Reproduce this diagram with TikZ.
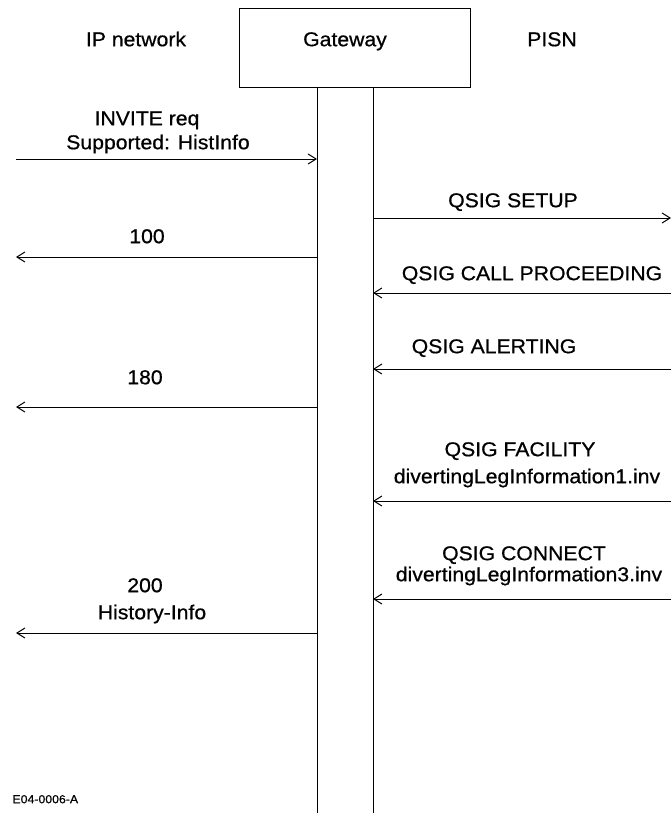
\documentclass[tikz,border=0pt]{standalone}
\usepackage{fontspec}
\setmainfont[FakeStretch=1.06,FakeBold=0.7]{Liberation Sans}
\usetikzlibrary{arrows.meta}
\begin{document}
\begin{tikzpicture}[x=0.5pt,y=-0.5pt,line width=0.5pt,
  msg/.style={-{Straight Barb[length=4pt,width=5pt]}},
  lbl/.style={font=\fontsize{10}{12}\selectfont,inner sep=0pt,text height=7.2pt,text depth=0pt}]
  \useasboundingbox (0,0) rectangle (671,813);
  % heading
  \node[draw,anchor=north west,minimum width=115.5pt,minimum height=39.5pt,inner sep=0pt] (gw) at (239,8) {};
  \node[lbl] (gwname) at (345,39) {Gateway};
  \node[lbl] (ipname) at (136,39) {IP network};
  \node[lbl] (pisnname) at (552,39) {PISN};
  % life lines
  \coordinate (glT) at (317,87); \coordinate (glB) at (317,813);
  \coordinate (grT) at (373,87); \coordinate (grB) at (373,813);
  \draw (glT) -- (glB);
  \draw (grT) -- (grB);
  % message ends
  \foreach \y/\n in {159/inv,257/m100,407/m180,633/m200}
    {\coordinate (\n L) at (16,\y); \coordinate (\n R) at (317,\y);}
  \foreach \y/\n in {218/setup,293/proc,369/alert,501/fac,599/conn}
    {\coordinate (\n L) at (373,\y); \coordinate (\n R) at (671,\y);}
  % IP side
  \node[lbl] (invA) at (147,118) {INVITE req};
  \node[lbl] (invB) at (158,142) {Supported: HistInfo};
  \draw[msg] (invL) -- (invR);
  \node[lbl] (t100) at (147,236) {100};
  \draw[msg] (m100R) -- (m100L);
  \node[lbl] (t180) at (145,377) {180};
  \draw[msg] (m180R) -- (m180L);
  \node[lbl] (t200) at (145,585) {200};
  \node[lbl] (thist) at (152,612) {History-Info};
  \draw[msg] (m200R) -- (m200L);
  % PISN side
  \node[lbl] (tsetup) at (513,200) {QSIG SETUP};
  \draw[msg] (setupL) -- (setupR);
  \node[lbl] (tproc) at (532,273) {QSIG CALL PROCEEDING};
  \draw[msg] (procR) -- (procL);
  \node[lbl] (talert) at (494,346) {QSIG ALERTING};
  \draw[msg] (alertR) -- (alertL);
  \node[lbl] (tfacA) at (520,449) {QSIG FACILITY};
  \node[lbl] (tfacB) at (527,476) {divertingLegInformation1.inv};
  \draw[msg] (facR) -- (facL);
  \node[lbl] (tconA) at (524,553) {QSIG CONNECT};
  \node[lbl] (tconB) at (529,574) {divertingLegInformation3.inv};
  \draw[msg] (connR) -- (connL);
  \node[lbl,font=\fontsize{5.8}{7}\selectfont,text height=4.2pt,anchor=west] (fig) at (12,799) {E04-0006-A};
\end{tikzpicture}
\end{document}
